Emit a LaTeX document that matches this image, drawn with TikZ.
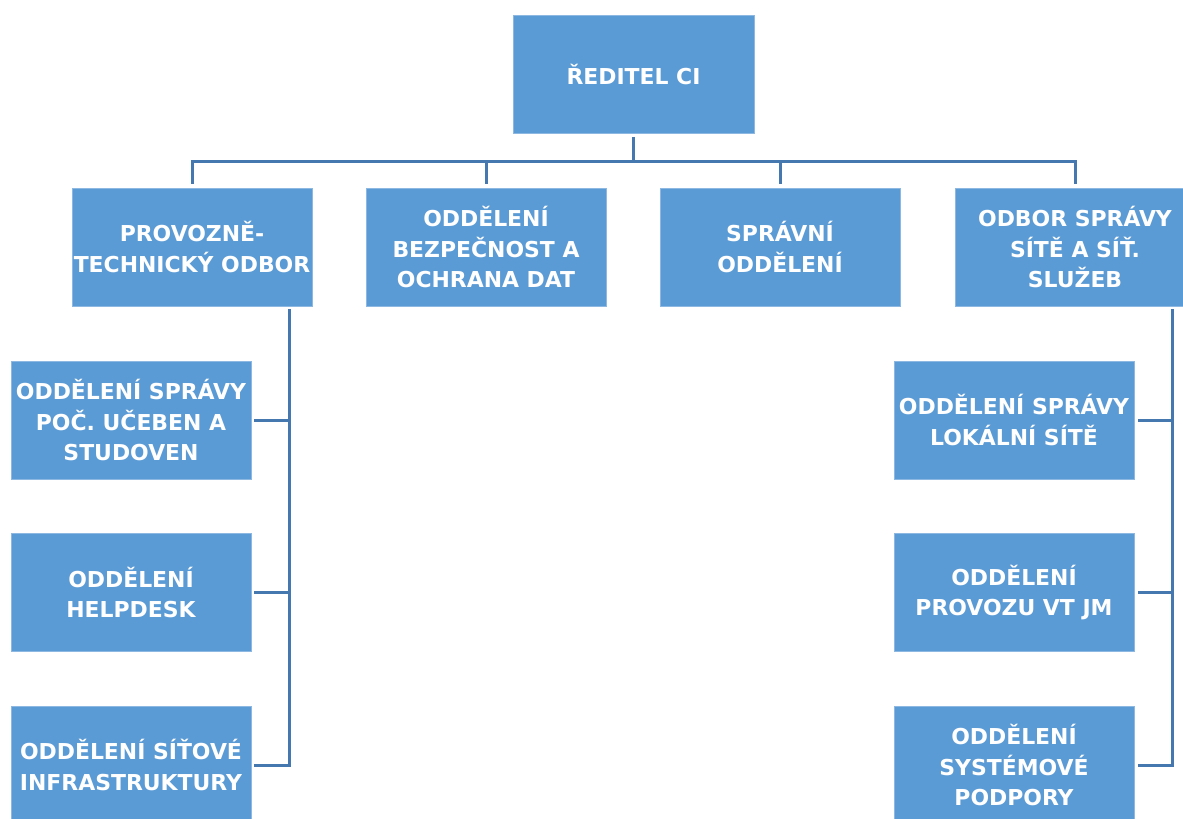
\documentclass[tikz,border=0pt]{standalone}
\usepackage{fontspec}
\setmainfont{DejaVu Sans}
\definecolor{boxfill}{HTML}{5B9BD5}
\definecolor{boxedge}{HTML}{8DB8E2}
\definecolor{connc}{HTML}{4678B0}
\begin{document}
\begin{tikzpicture}[x=1bp,y=-1bp,
  unit/.style={rectangle, fill=boxfill, draw=boxedge, line width=0.8bp,
    minimum width=240bp, minimum height=118bp, inner sep=0pt,
    text=white, align=center, font=\fontsize{22}{30.5}\selectfont\bfseries},
  conn/.style={draw=connc, line width=3bp}]
\useasboundingbox (0,0) rectangle (1183,819);
\clip (0,0) rectangle (1183,819);
% top
\node[unit, minimum width=241bp] (top) at (633.5,74.5) {ŘEDITEL CI};
% level 2
\node[unit] (pA) at (192,247) {PROVOZNĚ-\\TECHNICKÝ ODBOR};
\node[unit] (pB) at (486,247) {ODDĚLENÍ\\BEZPEČNOST A\\OCHRANA DAT};
\node[unit] (pC) at (780,247) {SPRÁVNÍ\\ODDĚLENÍ};
\node[unit] (pD) at (1075,247) {ODBOR SPRÁVY\\SÍTĚ A SÍŤ.\\SLUŽEB};
% left column
\node[unit] (l1) at (131,420) {ODDĚLENÍ SPRÁVY\\POČ. UČEBEN A\\STUDOVEN};
\node[unit] (l2) at (131,592.5) {ODDĚLENÍ\\HELPDESK};
\node[unit] (l3) at (131,765) {ODDĚLENÍ SÍŤOVÉ\\INFRASTRUKTURY};
% right column
\node[unit] (r1) at (1014,420) {ODDĚLENÍ SPRÁVY\\LOKÁLNÍ SÍTĚ};
\node[unit] (r2) at (1014,592.5) {ODDĚLENÍ\\PROVOZU VT JM};
\node[unit] (r3) at (1014,765) {ODDĚLENÍ\\SYSTÉMOVÉ\\PODPORY};
% helper coordinates
\coordinate (bus) at (0,161);
\coordinate (lt) at (289.5,0);
\coordinate (rt) at (1172,0);
% connectors from top
\draw[conn, shorten <=3bp] (top.south) -- (top.south |- bus);
\draw[conn, shorten <=4bp, shorten >=4bp] (pA.north) -- (pA.north |- bus) -- (pD.north |- bus) -- (pD.north);
\draw[conn, shorten <=4bp] (pB.north) -- (pB.north |- bus);
\draw[conn, shorten <=4bp] (pC.north) -- (pC.north |- bus);
% left trunk
\draw[conn, shorten <=3bp, shorten >=3bp] (pA.south -| lt) -- (l3.east -| lt) -- (l3.east);
\draw[conn, shorten >=3bp] (l1.east -| lt) -- (l1.east);
\draw[conn, shorten >=3bp] (l2.east -| lt) -- (l2.east);
% right trunk
\draw[conn, shorten <=3bp, shorten >=4bp] (pD.south -| rt) -- (r3.east -| rt) -- (r3.east);
\draw[conn, shorten >=4bp] (r1.east -| rt) -- (r1.east);
\draw[conn, shorten >=4bp] (r2.east -| rt) -- (r2.east);
\end{tikzpicture}
\end{document}
